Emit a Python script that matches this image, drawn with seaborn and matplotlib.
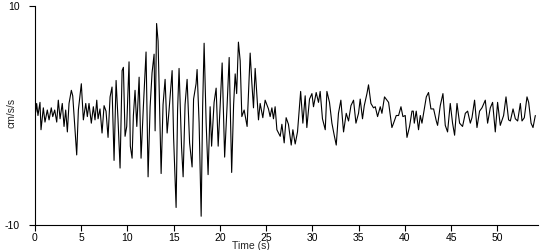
import matplotlib
matplotlib.use("Agg")
import matplotlib.pyplot as plt
import seaborn as sns
import pandas as pd

# time (s) of points read from the record
time_s = [0.08,0.18,0.32,0.54,0.65,0.90,1.08,1.33,1.52,1.76,1.92,2.13,2.35,2.52,2.71,2.95,3.14,3.32,3.50,3.68,
          3.93,4.08,4.30,4.51,4.69,4.84,5.01,5.23,5.49,5.66,5.84,6.09,6.31,6.49,6.68,6.82,7.03,7.25,7.47,7.68,
          7.90,8.12,8.33,8.55,8.77,8.98,9.20,9.42,9.56,9.74,9.92,10.17,10.31,10.50,10.64,10.82,11.01,11.26,11.47,11.72,
          12.01,12.23,12.45,12.66,12.88,12.99,13.15,13.31,13.64,13.85,14.07,14.29,14.50,14.83,14.99,15.26,15.42,15.58,15.85,16.02,
          16.23,16.45,16.72,16.99,17.15,17.42,17.53,17.75,17.97,18.13,18.29,18.51,18.72,18.94,19.10,19.37,19.59,19.81,20.02,20.24,
          20.51,20.78,21.00,21.27,21.48,21.65,21.81,22.00,22.19,22.37,22.62,22.94,23.27,23.45,23.63,23.81,24.17,24.35,24.64,24.89,
          25.25,25.43,25.62,25.79,25.97,26.16,26.52,26.70,26.95,27.16,27.41,27.71,27.89,28.14,28.39,28.73,28.97,29.22,29.40,29.69,
          29.95,30.12,30.41,30.66,30.84,31.09,31.39,31.57,31.85,32.11,32.36,32.58,32.82,33.08,33.37,33.66,33.91,34.17,34.45,34.71,
          34.99,35.17,35.42,35.61,35.90,36.07,36.33,36.61,36.80,37.05,37.34,37.52,37.80,38.06,38.24,38.60,38.78,39.07,39.32,39.58,
          39.79,40.04,40.23,40.51,40.77,40.91,41.02,41.23,41.48,41.67,41.85,42.10,42.32,42.56,42.82,43.11,43.40,43.54,43.83,44.12,
          44.37,44.62,44.91,45.16,45.38,45.64,45.92,46.24,46.54,46.79,47.08,47.26,47.54,47.80,48.08,48.34,48.70,48.95,49.24,49.49,
          49.78,50.03,50.32,50.68,50.94,51.22,51.41,51.70,51.95,52.20,52.49,52.67,52.92,53.21,53.39,53.65,53.86,54.11]

# acceleration (cm/s/s) read at those times
accel = [0.3,1.1,0.0,1.2,-1.3,0.7,-0.6,0.5,-0.4,0.7,-0.1,0.5,-0.6,1.4,-0.3,1.1,-1.0,0.5,-1.5,1.1,
         2.3,1.8,-1.0,-3.6,0.5,1.6,2.9,-0.4,1.1,-0.1,1.1,-0.7,0.8,-0.4,1.4,-0.3,0.6,-1.6,0.9,0.4,
         -2.0,1.7,2.6,-4.1,3.2,-0.4,-4.8,4.1,4.4,-1.9,-1.0,4.9,-2.8,-3.9,0.0,2.3,-1.0,3.5,-3.9,0.8,
         5.8,-5.6,0.8,3.9,5.6,-1.4,8.4,6.8,-5.3,1.0,3.3,-1.6,0.5,4.1,-2.0,-8.4,0.5,4.3,-2.9,-5.6,
         1.0,3.3,-2.5,-4.7,1.5,2.9,4.2,-0.7,-9.2,0.8,6.6,-0.7,-5.4,0.8,-2.8,1.2,2.5,-2.8,0.8,4.8,
         -3.8,1.0,5.3,-5.2,1.0,3.8,2.0,6.7,5.0,-0.1,0.5,-1.0,5.7,3.0,0.7,4.3,-0.4,1.1,-0.2,1.4,
         0.6,-0.1,0.7,-0.3,0.8,-1.3,-1.9,-0.8,-2.5,-0.2,-0.8,-2.7,-1.3,-2.6,-1.5,2.2,-0.7,1.8,-1.1,1.5,
         2.0,0.8,2.1,1.2,2.2,-0.3,-1.3,2.2,1.2,-0.7,-1.8,-2.7,0.2,1.4,-1.5,0.2,-0.5,0.9,1.4,-0.7,
         0.2,1.5,-0.3,0.9,2.0,2.8,1.1,0.7,0.8,-0.1,0.8,0.2,1.7,1.4,1.2,-1.1,-0.7,0.0,0.0,0.8,
         -0.1,0.0,-2.0,-1.0,0.4,0.4,-0.7,0.4,-1.3,0.0,-0.7,0.6,1.7,2.1,0.6,0.6,-0.5,-0.9,0.9,2.0,
         -0.9,-1.5,1.1,-0.7,-1.8,1.1,-0.7,-1.0,0.2,0.4,-0.7,-0.2,1.4,-1.1,0.4,0.7,1.4,-0.7,0.7,1.2,
         -1.5,1.2,-0.9,0.0,1.7,-0.4,-0.5,0.6,-0.3,-0.5,1.1,-0.5,-0.2,1.7,1.2,-0.7,-1.1,0.0]

x_ticks = [0, 5, 10, 15, 20, 25, 30, 35, 40, 45, 50]
y_ticks = [-10, 10]
x_label = "Time (s)"
y_label = "cm/s/s"

df = pd.DataFrame({"t": time_s, "a": accel})

sns.set_style("ticks")
plt.rcParams["font.family"] = ["Liberation Sans", "DejaVu Sans"]

fig = plt.figure(figsize=(5.5, 2.5), dpi=100)
ax = fig.add_axes([35/550, 0.10, 503/550, 219/250])
sns.lineplot(data=df, x="t", y="a", color="black", linewidth=0.8,
             estimator=None, sort=False, ax=ax)

ax.set_xlim(0, 54.4)
ax.set_ylim(-10, 10)
ax.set_xticks(x_ticks)
ax.set_xticklabels([str(v) for v in x_ticks])
ax.set_yticks(y_ticks)
ax.set_yticklabels([str(v) for v in y_ticks])
ax.tick_params(axis="x", direction="out", length=4, width=0.8, pad=1.5, labelsize=7.5, colors="black")
ax.tick_params(axis="y", direction="out", length=4, width=0.8, pad=7, labelsize=7.5, colors="black")
for s in ["top", "right"]:
    ax.spines[s].set_visible(False)
for s in ["left", "bottom"]:
    ax.spines[s].set_linewidth(0.8)
    ax.spines[s].set_color("black")

ax.set_xlabel(x_label, fontsize=7.5)
ax.set_ylabel(y_label, fontsize=7.5)
ax.xaxis.set_label_coords(0.43, -0.074)
ax.yaxis.set_label_coords(-0.036, 0.51)

fig.savefig("out.png", dpi=100, facecolor="white")
